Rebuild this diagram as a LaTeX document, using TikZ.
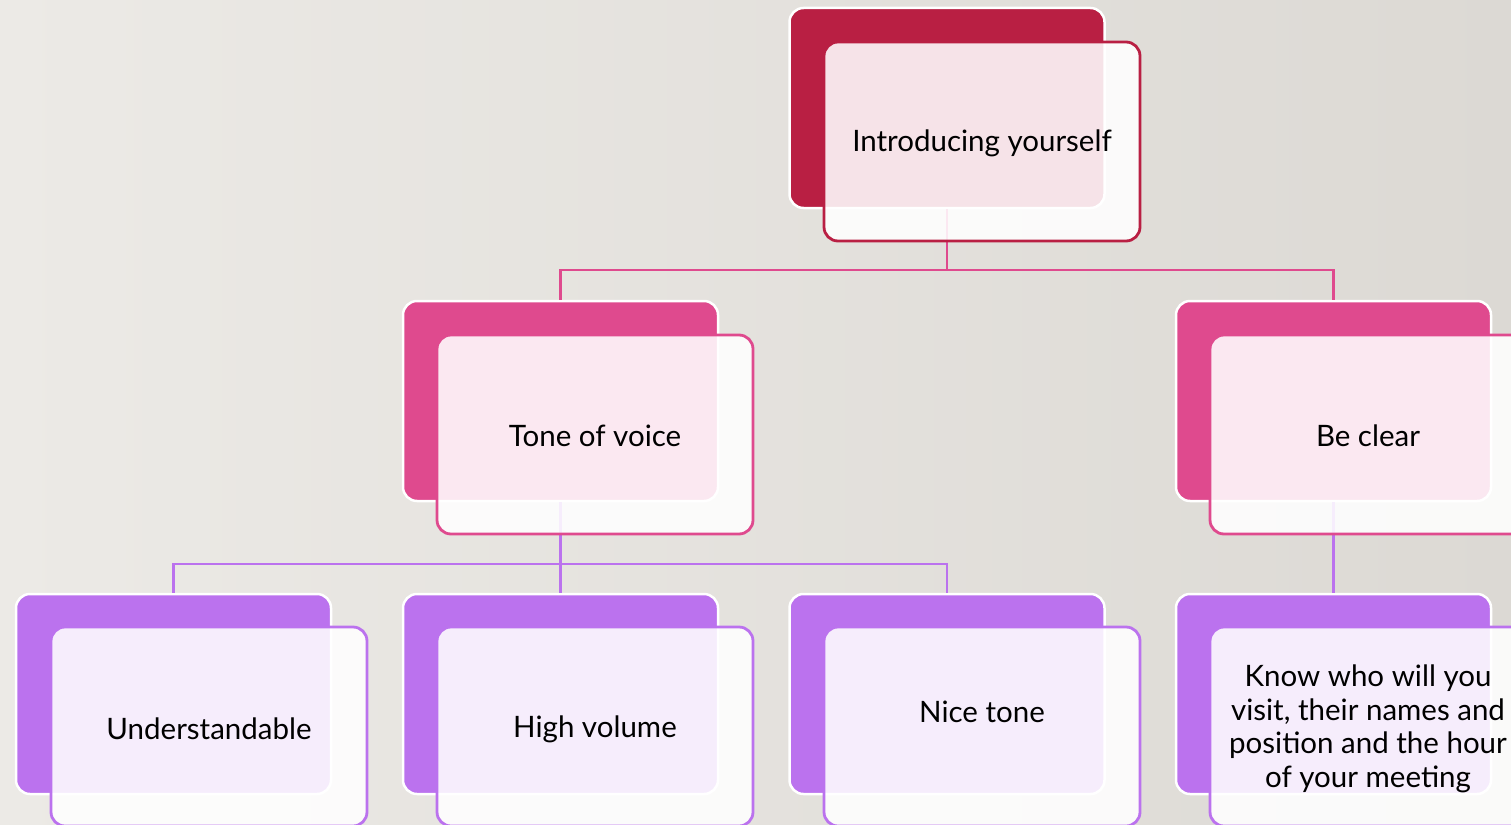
\documentclass[tikz,border=0pt]{standalone}
\usepackage{fontspec}
\setmainfont{Lato}
\begin{document}
\begin{tikzpicture}[x=1pt,y=-1pt,
  back/.style={draw=white,line width=2.5pt,rounded corners=14pt,minimum width=315pt,minimum height=200pt,inner sep=0pt},
  front/.style={draw=#1,line width=2.8pt,rounded corners=14pt,fill=white,fill opacity=0.88,minimum width=316pt,minimum height=199pt,inner sep=0pt},
  lbl/.style={text=black,font=\fontsize{29.5}{33.5}\selectfont,align=center,inner sep=0pt},
  conn/.style={draw=#1,line width=2.5pt}]
\definecolor{crim}{HTML}{B91F43}
\definecolor{pinkc}{HTML}{DF4A8E}
\definecolor{purp}{HTML}{BB72EE}
\definecolor{bgA}{HTML}{ECEAE6}
\definecolor{bgB}{HTML}{DCD9D4}
\useasboundingbox (0,0) rectangle (1511,824);
\clip (0,0) rectangle (1511,824);
\shade[left color=bgA,right color=bgB] (0,0) rectangle (1511,824);
% back boxes
\node[back,fill=crim] (topb) at (947,108) {};
\node[back,fill=pinkc] (toneb) at (560.5,401) {};
\node[back,fill=pinkc] (clearb) at (1333.5,401) {};
\node[back,fill=purp] (undb) at (173.5,694) {};
\node[back,fill=purp] (highb) at (560.5,694) {};
\node[back,fill=purp] (niceb) at (947,694) {};
\node[back,fill=purp] (knowb) at (1333.5,694) {};
% connectors
\coordinate (j1) at (947,270);
\coordinate (j2) at (560.5,564);
\draw[conn=pinkc] (topb.south) -- (j1) -| (toneb.north);
\draw[conn=pinkc] (j1) -| (clearb.north);
\draw[conn=purp] (toneb.south) -- (j2) -| (undb.north);
\draw[conn=purp] (j2) -| (niceb.north);
\draw[conn=purp] (j2) -- (highb.north);
\draw[conn=purp] (clearb.south) -- (knowb.north);
% front boxes
\node[front=crim] (topf) at (982,141.5) {};
\node[front=pinkc] (tonef) at (595,434.5) {};
\node[front=pinkc] (clearf) at (1368,434.5) {};
\node[front=purp] (undf) at (209,726.5) {};
\node[front=purp] (highf) at (595,726.5) {};
\node[front=purp] (nicef) at (982,726.5) {};
\node[front=purp] (knowf) at (1368,726.5) {};
% labels
\node[lbl] (topt) at (982,143) {Introducing yourself};
\node[lbl] (tonet) at (595,435.5) {Tone of voice};
\node[lbl] (cleart) at (1368,435.5) {Be clear};
\node[lbl] (undt) at (209,728.5) {Understandable};
\node[lbl] (hight) at (595,729.5) {High volume};
\node[lbl] (nicet) at (982,711.5) {Nice tone};
\node[lbl] (knowt) at (1368,729) {Know who will you\\visit, their names and\\position and the hour\\of your meeting};
\end{tikzpicture}
\end{document}
